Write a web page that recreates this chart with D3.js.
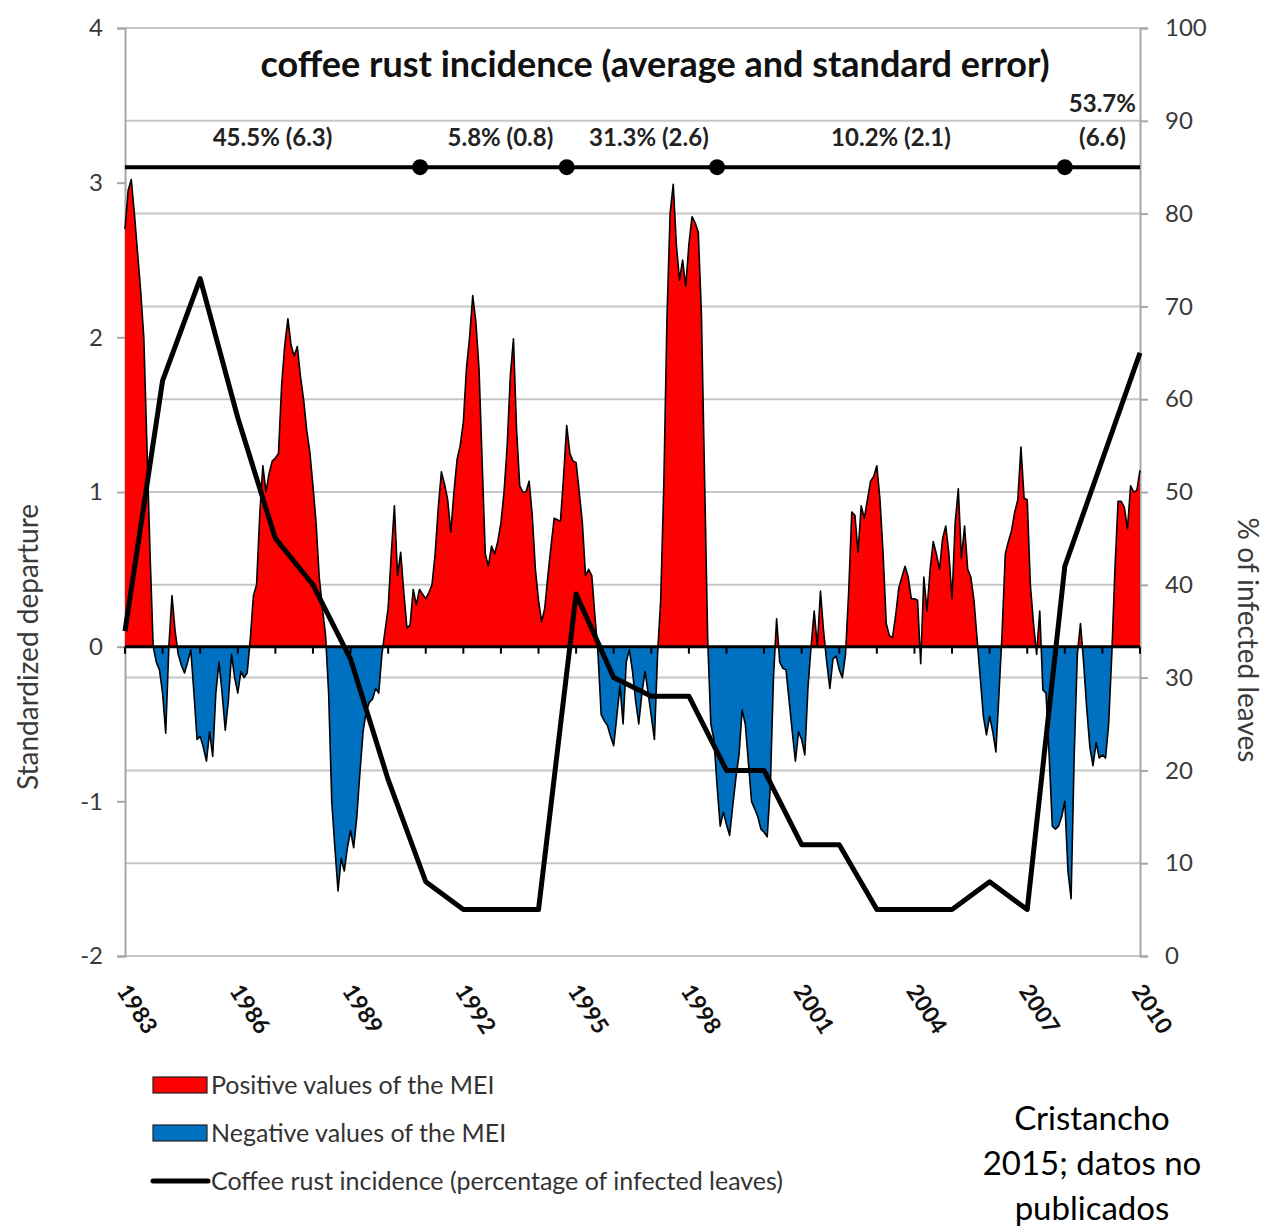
<!DOCTYPE html>
<html>
<head>
<meta charset="utf-8">
<script src="https://cdn.jsdelivr.net/npm/d3@7"></script>
<style>
  body { margin: 0; background: #fff; }
  svg { display: block; }
  text { font-family: Lato, "Open Sans", "DejaVu Sans", sans-serif; }
</style>
</head>
<body>
<svg id="chart" width="1272" height="1229"></svg>
<script>
// ---- Data ---------------------------------------------------------------
const firstYear = 1983;
const lastYear = 2010;

// Multivariate ENSO Index (MEI), one value per month from Jan 1983 to Jan 2010
const meiValues = [
  // 1983
  2.70, 2.95, 3.02, 2.80, 2.55, 2.30, 2.00, 1.30, 0.60, 0.00, -0.10, -0.15,
  // 1984
  -0.30, -0.56, 0.00, 0.33, 0.10, -0.05, -0.12, -0.17, -0.10, -0.02, -0.30, -0.60,
  // 1985
  -0.58, -0.65, -0.74, -0.55, -0.71, -0.30, -0.10, -0.30, -0.54, -0.35, -0.05, -0.20,
  // 1986
  -0.30, -0.16, -0.20, -0.17, 0.05, 0.33, 0.40, 0.85, 1.17, 1.00, 1.12, 1.20,
  // 1987
  1.22, 1.25, 1.69, 1.95, 2.12, 1.95, 1.88, 1.94, 1.75, 1.60, 1.40, 1.26,
  // 1988
  1.04, 0.80, 0.45, 0.25, 0.08, -0.30, -1.00, -1.30, -1.58, -1.37, -1.45, -1.30,
  // 1989
  -1.19, -1.30, -1.10, -0.81, -0.55, -0.42, -0.36, -0.34, -0.27, -0.30, -0.05, 0.10,
  // 1990
  0.25, 0.60, 0.91, 0.46, 0.61, 0.35, 0.12, 0.14, 0.37, 0.27, 0.37, 0.34,
  // 1991
  0.31, 0.35, 0.40, 0.60, 0.90, 1.13, 1.05, 0.95, 0.74, 1.00, 1.21, 1.30,
  // 1992
  1.45, 1.80, 2.00, 2.27, 2.10, 1.80, 1.20, 0.60, 0.52, 0.65, 0.60, 0.68,
  // 1993
  0.80, 1.00, 1.30, 1.75, 1.99, 1.40, 1.04, 1.00, 1.00, 1.07, 0.85, 0.50,
  // 1994
  0.30, 0.16, 0.25, 0.46, 0.65, 0.83, 0.82, 0.81, 1.10, 1.43, 1.25, 1.20,
  // 1995
  1.19, 1.00, 0.80, 0.46, 0.50, 0.46, 0.20, -0.05, -0.44, -0.48, -0.51, -0.58,
  // 1996
  -0.64, -0.45, -0.25, -0.50, -0.10, -0.02, -0.16, -0.35, -0.50, -0.30, -0.16, -0.30,
  // 1997
  -0.45, -0.60, -0.05, 0.30, 1.05, 2.12, 2.80, 2.99, 2.60, 2.37, 2.50, 2.33,
  // 1998
  2.60, 2.78, 2.74, 2.68, 2.15, 1.10, 0.05, -0.50, -0.60, -0.90, -1.16, -1.07,
  // 1999
  -1.15, -1.22, -1.03, -0.85, -0.70, -0.41, -0.50, -0.75, -1.00, -1.05, -1.10, -1.18,
  // 2000
  -1.20, -1.23, -0.90, -0.20, 0.18, -0.10, -0.14, -0.15, -0.35, -0.55, -0.74, -0.55,
  // 2001
  -0.60, -0.70, -0.27, 0.00, 0.23, 0.00, 0.36, 0.10, -0.10, -0.27, -0.08, -0.06,
  // 2002
  -0.15, -0.20, -0.05, 0.35, 0.87, 0.85, 0.61, 0.91, 0.83, 0.95, 1.07, 1.10,
  // 2003
  1.17, 0.95, 0.60, 0.15, 0.07, 0.06, 0.20, 0.38, 0.45, 0.52, 0.45, 0.31,
  // 2004
  0.31, 0.30, -0.11, 0.45, 0.23, 0.50, 0.68, 0.60, 0.50, 0.70, 0.78, 0.60,
  // 2005
  0.31, 0.80, 1.02, 0.57, 0.78, 0.50, 0.45, 0.30, 0.05, -0.20, -0.45, -0.57,
  // 2006
  -0.45, -0.55, -0.68, -0.30, 0.10, 0.60, 0.68, 0.75, 0.87, 0.95, 1.29, 0.96,
  // 2007
  0.95, 0.40, 0.15, -0.05, 0.23, -0.28, -0.30, -0.70, -1.16, -1.18, -1.16, -1.10,
  // 2008
  -1.00, -1.45, -1.63, -0.70, -0.05, 0.15, -0.10, -0.40, -0.65, -0.77, -0.62, -0.72,
  // 2009
  -0.70, -0.72, -0.50, -0.05, 0.50, 0.94, 0.94, 0.90, 0.76, 1.04, 1.00, 1.01,
  // 2010
  1.14
];

// Coffee rust incidence (% of infected leaves), yearly
const rustYears = [1983, 1984, 1985, 1986, 1987, 1988, 1989, 1990, 1991, 1992,
                   1993, 1994, 1995, 1996, 1997, 1998, 1999, 2000, 2001, 2002,
                   2003, 2004, 2005, 2006, 2007, 2008, 2009, 2010];
const rustPercent = [35, 62, 73, 58, 45, 40, 32, 19, 8, 5,
                     5, 5, 39, 30, 28, 28, 20, 20, 12, 12,
                     5, 5, 5, 8, 5, 42, 53.5, 65];

// Periods of average incidence (average and standard error)
const periodBreaks = [1990.85, 1994.75, 1998.75, 2008.0];
const periodLabels = [["45.5% (6.3)"], ["5.8% (0.8)"], ["31.3% (2.6)"], ["10.2% (2.1)"], ["53.7%", "(6.6)"]];

// Axis ticks
const leftTicks = [-2, -1, 0, 1, 2, 3, 4];
const rightTicks = [0, 10, 20, 30, 40, 50, 60, 70, 80, 90, 100];
const yearLabels = [1983, 1986, 1989, 1992, 1995, 1998, 2001, 2004, 2007, 2010];

const legendItems = ["Positive values of the MEI", "Negative values of the MEI",
                     "Coffee rust incidence (percentage of infected leaves)"];
const sourceLines = ["Cristancho", "2015; datos no", "publicados"];

// ---- Layout -------------------------------------------------------------
const plot = { left: 125, right: 1140, top: 28, bottom: 956 };
const periodLevel = 3.1;   // height of the period bar on the left scale

const svg = d3.select("#chart");

const x = d3.scaleLinear().domain([firstYear, lastYear]).range([plot.left, plot.right]);
const yL = d3.scaleLinear().domain([-2, 4]).range([plot.bottom, plot.top]);
const yR = d3.scaleLinear().domain([0, 100]).range([plot.bottom, plot.top]);

// Gridlines on the right-axis ticks
svg.append("g").selectAll("line").data(rightTicks).join("line")
  .attr("x1", plot.left).attr("x2", plot.right)
  .attr("y1", d => yR(d)).attr("y2", d => yR(d))
  .attr("stroke", "#c6c6c6").attr("stroke-width", 2);

// Left axis
const leftAxis = d3.axisLeft(yL).tickValues(leftTicks).tickSize(8).tickPadding(14)
  .tickFormat(d => String(d));
const gL = svg.append("g").attr("transform", `translate(${plot.left},0)`).call(leftAxis);
gL.select(".domain").attr("stroke", "#a6a6a6").attr("stroke-width", 2);
gL.selectAll(".tick line").attr("stroke", "#a6a6a6").attr("stroke-width", 2);
gL.selectAll(".tick text").attr("font-size", 24).attr("fill", "#3a3a3a")
  .style("font-family", "Lato, sans-serif");

// Right axis
const rightAxis = d3.axisRight(yR).tickValues(rightTicks).tickSize(8).tickPadding(17);
const gR = svg.append("g").attr("transform", `translate(${plot.right},0)`).call(rightAxis);
gR.select(".domain").attr("stroke", "#a6a6a6").attr("stroke-width", 2);
gR.selectAll(".tick line").attr("stroke", "#a6a6a6").attr("stroke-width", 2);
gR.selectAll(".tick text").attr("font-size", 24).attr("fill", "#3a3a3a")
  .style("font-family", "Lato, sans-serif");

// ---- MEI areas ----------------------------------------------------------
const meiPoints = meiValues.map((v, i) => ({ t: firstYear + i / 12, v }));
// add zero crossings so the red/blue fills meet exactly on the zero line
const meiSplit = [];
meiPoints.forEach((p, i) => {
  if (i > 0) {
    const q = meiPoints[i - 1];
    if ((q.v > 0 && p.v < 0) || (q.v < 0 && p.v > 0)) {
      const f = q.v / (q.v - p.v);
      meiSplit.push({ t: q.t + f * (p.t - q.t), v: 0 });
    }
  }
  meiSplit.push(p);
});

const posArea = d3.area().x(d => x(d.t)).y0(yL(0)).y1(d => yL(Math.max(0, d.v)));
const negArea = d3.area().x(d => x(d.t)).y0(yL(0)).y1(d => yL(Math.min(0, d.v)));

svg.append("path").datum(meiSplit).attr("d", posArea).attr("fill", "#ff0000");
svg.append("path").datum(meiSplit).attr("d", negArea).attr("fill", "#0070c0");
svg.append("path").datum(meiSplit)
  .attr("d", d3.line().x(d => x(d.t)).y(d => yL(d.v)))
  .attr("fill", "none").attr("stroke", "#000").attr("stroke-width", 1.6)
  .attr("stroke-linejoin", "round");

// Zero line with yearly ticks
const years = d3.range(firstYear, lastYear + 1);
svg.append("line")
  .attr("x1", plot.left).attr("x2", plot.right)
  .attr("y1", yL(0)).attr("y2", yL(0))
  .attr("stroke", "#000").attr("stroke-width", 3);
svg.append("g").selectAll("line").data(years).join("line")
  .attr("x1", d => x(d)).attr("x2", d => x(d))
  .attr("y1", yL(0)).attr("y2", yL(0) + 7)
  .attr("stroke", "#000").attr("stroke-width", 2);

// Year labels, slanted
svg.append("g").selectAll("text").data(yearLabels).join("text")
  .attr("transform", d => `translate(${x(d) - 9},${plot.bottom + 35}) rotate(57)`)
  .attr("font-size", 23).attr("font-weight", 700).attr("fill", "#111")
  .text(d => d);

// ---- Coffee rust line ---------------------------------------------------
const rustPts = rustYears.map((yr, i) => ({ t: yr, v: rustPercent[i] }));
svg.append("path").datum(rustPts)
  .attr("d", d3.line().x(d => x(d.t)).y(d => yR(d.v)))
  .attr("fill", "none").attr("stroke", "#000").attr("stroke-width", 5)
  .attr("stroke-linejoin", "round");

// ---- Period bar -----------------------------------------------------------
const barY = yL(periodLevel);
svg.append("line")
  .attr("x1", plot.left).attr("x2", plot.right)
  .attr("y1", barY).attr("y2", barY)
  .attr("stroke", "#000").attr("stroke-width", 4);
svg.append("g").selectAll("circle").data(periodBreaks).join("circle")
  .attr("cx", d => x(d)).attr("cy", barY).attr("r", 8).attr("fill", "#000");

const bounds = [firstYear, ...periodBreaks, lastYear];
periodLabels.forEach((lines, i) => {
  const cx = x((bounds[i] + bounds[i + 1]) / 2) + (i === 1 || i === 2 ? 7 : 0);
  const t = svg.append("text")
    .attr("text-anchor", "middle").attr("font-size", 24).attr("font-weight", 700)
    .attr("fill", "#222");
  lines.forEach((s, j) => {
    t.append("tspan").attr("x", cx)
      .attr("y", 146 - (lines.length - 1 - j) * 34).text(s);
  });
});

// Title
svg.append("text")
  .attr("x", 655).attr("y", 77).attr("text-anchor", "middle")
  .attr("font-size", 36).attr("font-weight", 700).attr("fill", "#111")
  .text("coffee rust incidence (average and standard error)");

// Axis titles
svg.append("text")
  .attr("transform", `translate(38,647) rotate(-90)`)
  .attr("text-anchor", "middle").attr("font-size", 28).attr("fill", "#3a3a3a")
  .text("Standardized departure");
svg.append("text")
  .attr("transform", `translate(1238,640) rotate(90)`)
  .attr("text-anchor", "middle").attr("font-size", 28).attr("fill", "#3a3a3a")
  .text("% of infected leaves");

// ---- Legend -------------------------------------------------------------
const legend = svg.append("g");
const legendRows = [1085, 1133, 1181];
legend.append("rect").attr("x", 153).attr("y", legendRows[0] - 8).attr("width", 54).attr("height", 16)
  .attr("fill", "#ff0000").attr("stroke", "#222").attr("stroke-width", 1.2);
legend.append("rect").attr("x", 153).attr("y", legendRows[1] - 8).attr("width", 54).attr("height", 16)
  .attr("fill", "#0070c0").attr("stroke", "#222").attr("stroke-width", 1.2);
legend.append("line").attr("x1", 153).attr("x2", 208)
  .attr("y1", legendRows[2]).attr("y2", legendRows[2])
  .attr("stroke", "#000").attr("stroke-width", 5).attr("stroke-linecap", "round");
legend.selectAll("text").data(legendItems).join("text")
  .attr("x", 211).attr("y", (d, i) => legendRows[i] + 9)
  .attr("font-size", 25).attr("fill", "#333")
  .text(d => d);

// Source note
svg.append("g").selectAll("text").data(sourceLines).join("text")
  .attr("x", 1092).attr("y", (d, i) => 1130 + i * 45)
  .attr("text-anchor", "middle").attr("font-size", 33).attr("fill", "#000")
  .text(d => d);
</script>
</body>
</html>
